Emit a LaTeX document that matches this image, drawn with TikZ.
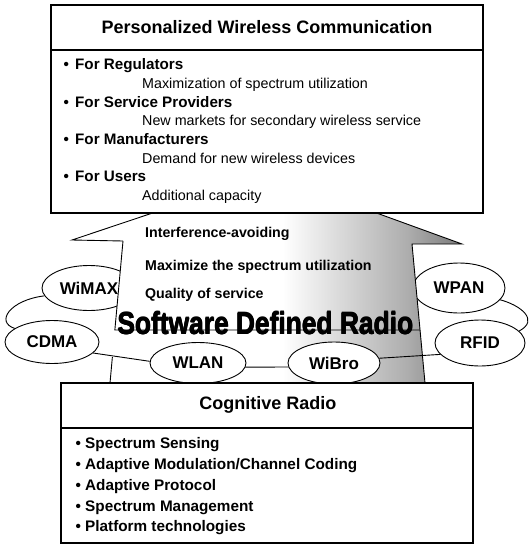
\documentclass[tikz,border=0pt]{standalone}
\usepackage{fontspec}
\setmainfont{Liberation Sans}
\usetikzlibrary{shapes.geometric,calc}
\pgfdeclarehorizontalshading{sdrshade}{100bp}{color(0bp)=(white); color(25bp)=(white); color(52bp)=(white); color(68bp)=(black!32); color(75bp)=(black!52); color(100bp)=(black!52)}
\newcommand\heavyword[1]{\rlap{\hspace{0.9pt}#1}\rlap{\hspace{0.45pt}\raisebox{0.5pt}{#1}}\rlap{\hspace{0.45pt}\raisebox{-0.5pt}{#1}}#1}
\tikzset{
  box/.style={draw, line width=1.1pt, fill=white},
  tech/.style={ellipse, draw, line width=0.9pt, fill=white, inner sep=0pt, font=\fontsize{17}{17}\selectfont\bfseries},
  ln/.style={line width=0.9pt},
  head/.style={inner sep=0pt, font=\fontsize{18}{18}\selectfont\bfseries},
  item/.style={anchor=west, inner sep=0pt, text height=0.72em, text depth=0pt},
  itb/.style={item, font=\fontsize{15.2}{15}\selectfont\bfseries},
  itr/.style={item, font=\fontsize{14.3}{14}\selectfont},
  arrtxt/.style={item, font=\fontsize{14.2}{14}\selectfont\bfseries},
  crtxt/.style={item, font=\fontsize{15.3}{15}\selectfont\bfseries}
}
\begin{document}
\begin{tikzpicture}[x=1pt,y=-1pt]
\useasboundingbox (0,0) rectangle (529,547);
% background ellipses (behind the arrow)
\node[tech, minimum width=94pt, minimum height=45pt] (wimax) at (89,288) {WiMAX};
\node[tech, minimum width=92pt, minimum height=50pt] (wpan) at (459,288) {WPAN};
% arrow
\coordinate (aBL) at (110,383);
\coordinate (aL) at (123,241);
\coordinate (tL) at (72,240);
\coordinate (apex) at (269,174);
\coordinate (tR) at (462,244);
\coordinate (aR) at (412,244);
\coordinate (aBR) at (425,383);
\coordinate (cL) at ($(aL)!0.6268!(aBL)$);
\coordinate (cR) at ($(aR)!0.6187!(aBR)$);
\coordinate (dL) at ($(aL)!0.817!(aBL)$);
\shade[shading=sdrshade] (aBL) -- (aL) -- (tL) -- (apex) -- (tR) -- (aR) -- (aBR) -- cycle;
\draw[ln, line join=miter] (aL) -- (tL) -- (apex) -- (tR) -- (aR) -- (aBR);
\draw[ln] (aL) -- (cL) -- (cR);
\draw[ln] (dL) -- (aBL);
\node[arrtxt] (q1) at (145,234) {Interference-avoiding};
\node[arrtxt] (q2) at (145,267) {Maximize the spectrum utilization};
\node[arrtxt] (q3) at (145,295) {Quality of service};
\node[inner sep=0pt] (sdr) at (265,323) {\bfseries\fontsize{31}{31}\selectfont\scalebox{0.85}[1]{\heavyword{Software Defined Radio}}};
% front ellipses
\node[tech, minimum width=94pt, minimum height=43pt] (cdma) at (52,342) {CDMA};
\node[tech, minimum width=90pt, minimum height=46pt] (rfid) at (480,343) {RFID};
\node[tech, minimum width=96pt, minimum height=41pt] (wlan) at (198,363) {WLAN};
\node[tech, minimum width=92pt, minimum height=42pt] (wibro) at (334,363) {WiBro};
% ring connectors
\draw[ln] (wimax.190) .. controls (10,300) and (-5,322) .. (cdma.160);
\draw[ln] (wpan.-16) .. controls (520,305) and (540,320) .. (rfid.17);
\draw[ln] (cdma.-15) -- (wlan.178);
\draw[ln] (wlan.-5) -- (wibro.185);
\draw[ln] (wibro.6) -- (rfid.196);
% top box
\draw[box] (51,5) rectangle (483,213);
\draw[line width=1.1pt] (51,50) -- (483,50);
\node[head] (ttl) at (267,27) {Personalized Wireless Communication};
\node[itb] (pb1) at (63.5,66) {\textbullet};
\node[itb] (p1) at (75,66) {For Regulators};
\node[itr] (p2) at (142,84.7) {Maximization of spectrum utilization};
\node[itb] (pb3) at (63.5,103.4) {\textbullet};
\node[itb] (p3) at (75,103.4) {For Service Providers};
\node[itr] (p4) at (142,122.1) {New markets for secondary wireless service};
\node[itb] (pb5) at (63.5,140.8) {\textbullet};
\node[itb] (p5) at (75,140.8) {For Manufacturers};
\node[itr] (p6) at (142,159.5) {Demand for new wireless devices};
\node[itb] (pb7) at (63.5,178.2) {\textbullet};
\node[itb] (p7) at (75,178.2) {For Users};
\node[itr] (p8) at (142,196.9) {Additional capacity};
% bottom box
\draw[box] (61,383) rectangle (473,543);
\draw[line width=1.1pt] (61,428) -- (473,428);
\node[head] (cttl) at (268,405) {Cognitive Radio};
\node[crtxt] (cb1) at (75.5,445) {\textbullet};
\node[crtxt] (c1) at (85,445) {Spectrum Sensing};
\node[crtxt] (cb2) at (75.5,466) {\textbullet};
\node[crtxt] (c2) at (85,466) {Adaptive Modulation/Channel Coding};
\node[crtxt] (cb3) at (75.5,487) {\textbullet};
\node[crtxt] (c3) at (85,487) {Adaptive Protocol};
\node[crtxt] (cb4) at (75.5,508) {\textbullet};
\node[crtxt] (c4) at (85,508) {Spectrum Management};
\node[crtxt] (cb5) at (75.5,528) {\textbullet};
\node[crtxt] (c5) at (85,528) {Platform technologies};
\end{tikzpicture}
\end{document}
